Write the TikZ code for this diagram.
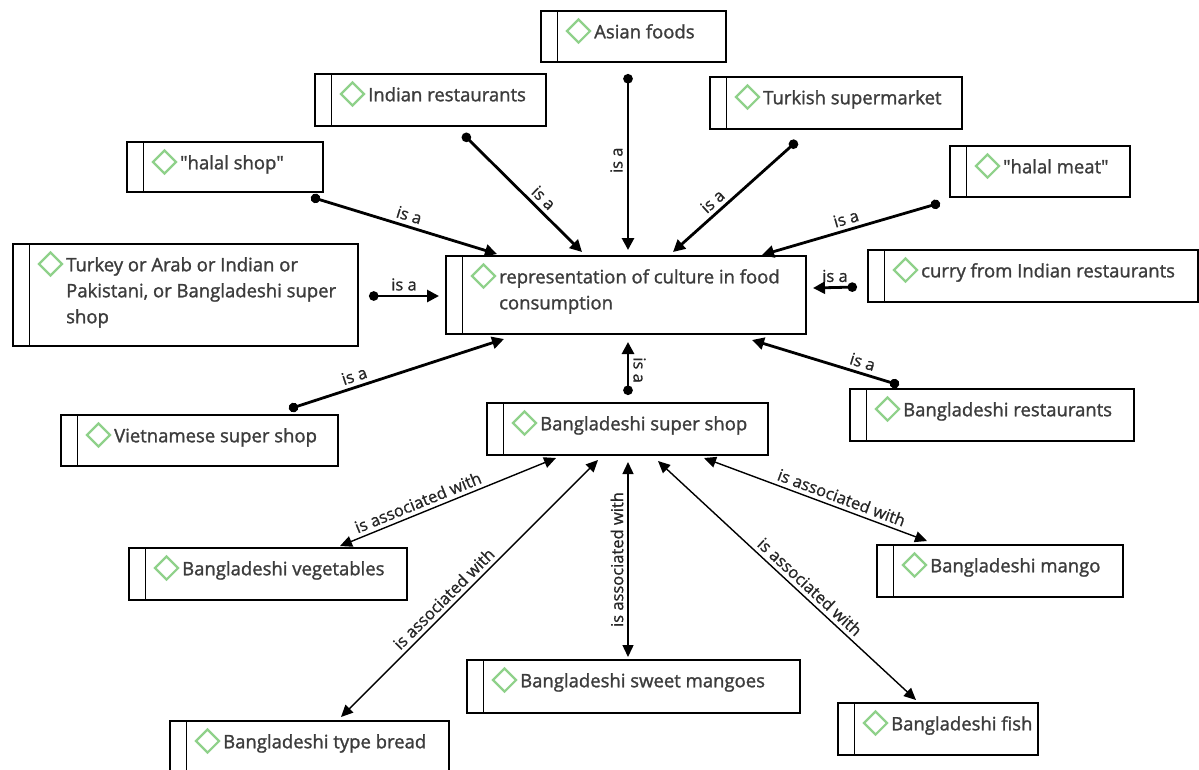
\documentclass[tikz,border=0pt]{standalone}
\usepackage{fontspec}
\setmainfont{Open Sans}
\newfontfamily\conceptfont{Open Sans}[FakeBold=1.4]
\newfontfamily\relfont{Open Sans}[FakeBold=0.9]
\usetikzlibrary{arrows.meta,shapes.geometric}
\definecolor{ink}{HTML}{3C3C3C}
\definecolor{gem}{HTML}{8FD18A}
\tikzset{
  conceptbox/.style={draw=black, line width=1.6pt, inner sep=0pt, outer sep=0pt, anchor=north west},
  concepttext/.style={text=ink, font=\conceptfont\fontsize{18.5}{26}\selectfont, align=left, inner sep=0pt, anchor=north west},
  gemmark/.style={diamond, draw=gem, line width=2.2pt, minimum width=24pt, minimum height=24pt, inner sep=0pt},
  isa/.style={line width=2.8pt, {Circle[length=9.5pt]}-{Triangle[length=12pt,width=12pt]}},
  assoc/.style={line width=1.4pt, {Triangle[length=12pt,width=11pt]}-{Triangle[length=12pt,width=11pt]}},
  rel/.style={text=black!85, font=\relfont\fontsize{16.5}{19}\selectfont, inner sep=4pt},
}
% concept box: name, left, top, right, bottom, text
\newcommand\conceptnode[6]{%
  \node[conceptbox, minimum width=#4pt-#2pt, minimum height=#5pt-#3pt] (#1) at (#2,#3) {};
  \draw[line width=1.6pt] ([xshift=16.5pt]#1.north west) -- ([xshift=16.5pt]#1.south west);
  \node[gemmark] (#1-gem) at ([shift={(37.5,20)}]#1.north west) {};
  \node[concepttext] (#1-txt) at ([shift={(53,13)}]#1.north west) {#6};
}
\begin{document}
\begin{tikzpicture}[x=1pt,y=-1pt]
\useasboundingbox (0,0) rectangle (1199,769);

\conceptnode{asian}{541}{11}{726}{62}{Asian foods}
\conceptnode{indres}{315}{74}{546}{126}{Indian restaurants}
\conceptnode{turk}{710}{77}{962}{129}{Turkish supermarket}
\conceptnode{halshop}{127}{142}{323}{192}{\textquotedbl halal shop\textquotedbl}
\conceptnode{halmeat}{950}{146}{1130}{197}{\textquotedbl halal meat\textquotedbl}
\conceptnode{arab}{13}{244}{358}{346}{Turkey or Arab or Indian or\\Pakistani, or Bangladeshi super\\shop}
\conceptnode{rep}{446}{256}{806}{334}{representation of culture in food\\consumption}
\conceptnode{curry}{868}{250}{1198}{302}{curry from Indian restaurants}
\conceptnode{viet}{61}{415}{338}{466}{Vietnamese super shop}
\conceptnode{bss}{487}{403}{768}{455}{Bangladeshi super shop}
\conceptnode{bres}{850}{389}{1134}{441}{Bangladeshi restaurants}
\conceptnode{veg}{129}{548}{407}{600}{Bangladeshi vegetables}
\conceptnode{mango}{877}{545}{1123}{597}{Bangladeshi mango}
\conceptnode{sweet}{467}{660}{800}{713}{Bangladeshi sweet mangoes}
\conceptnode{fish}{838}{703}{1038}{755}{Bangladeshi fish}
\conceptnode{bread}{170}{721}{449}{773}{Bangladeshi type bread}

% "is a" links into the central concept
\draw[isa] ([shift={(87,63)}]asian.north west) -- node[rel, pos=0.49, rotate=90, anchor=south] {is a} ([shift={(182,-6)}]rep.north west);
\draw[isa] ([shift={(148,60)}]indres.north west) -- node[rel, pos=0.61, sloped, above] {is a} ([shift={(136,-4)}]rep.north west);
\draw[isa] ([shift={(87,64)}]turk.north west) -- node[rel, pos=0.62, sloped, above] {is a} ([shift={(227,-4)}]rep.north west);
\draw[isa] ([shift={(184,55)}]halshop.north west) -- node[rel, pos=0.51, sloped, above] {is a} ([shift={(51,-2)}]rep.north west);
\draw[isa] ([shift={(-10,57)}]halmeat.north west) -- node[rel, pos=0.51, sloped, above] {is a} ([shift={(316,-1)}]rep.north west);
\draw[isa] ([shift={(356,52)}]arab.north west) -- node[rel, pos=0.5, above] {is a} ([shift={(-7,40)}]rep.north west);
\draw[isa] ([shift={(-11,37)}]curry.north west) -- node[rel, pos=0.5, above] {is a} ([shift={(367,32)}]rep.north west);
\draw[isa] ([shift={(228,-6)}]viet.north west) -- node[rel, pos=0.32, sloped, above] {is a} ([shift={(58,83)}]rep.north west);
\draw[isa] ([shift={(141,-8)}]bss.north west) -- node[rel, pos=0.47, rotate=-90, anchor=south] {is a} ([shift={(182,86)}]rep.north west);
\draw[isa] ([shift={(49,-4)}]bres.north west) -- node[rel, pos=0.27, sloped, above] {is a} ([shift={(306,84)}]rep.north west);

% "is associated with" links around the super shop
\draw[assoc] ([shift={(69,55)}]bss.north west) -- node[rel, pos=0.62, sloped, above] {is associated with} ([shift={(211,-2)}]veg.north west);
\draw[assoc] ([shift={(111,57)}]bss.north west) -- node[rel, pos=0.57, sloped, above] {is associated with} ([shift={(171,-4)}]bread.north west);
\draw[assoc] ([shift={(141,59)}]bss.north west) -- node[rel, pos=0.5, rotate=90, anchor=south] {is associated with} ([shift={(161,-3)}]sweet.north west);
\draw[assoc] ([shift={(171,58)}]bss.north west) -- node[rel, pos=0.56, sloped, above] {is associated with} ([shift={(78,-3)}]fish.north west);
\draw[assoc] ([shift={(217,55)}]bss.north west) -- node[rel, pos=0.6, sloped, above] {is associated with} ([shift={(50,-4)}]mango.north west);
\end{tikzpicture}
\end{document}
